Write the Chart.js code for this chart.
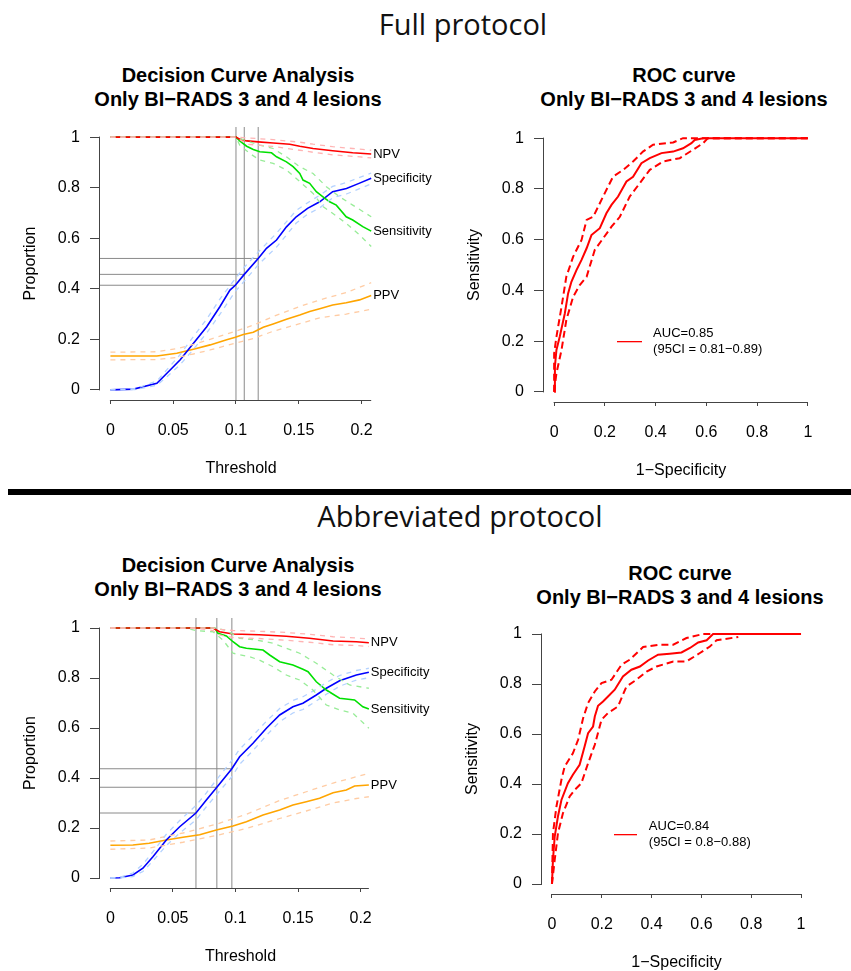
<!DOCTYPE html>
<html>
<head>
<meta charset="utf-8">
<script src="https://cdn.jsdelivr.net/npm/chart.js@4/dist/chart.umd.min.js"></script>
<style>
  html, body { margin:0; padding:0; background:#fff; }
  body { width:851px; height:971px; position:relative; overflow:hidden; font-family:"Liberation Sans", Arial, sans-serif; }
  .big { position:absolute; width:500px; text-align:center; font-family:"Open Sans", sans-serif; font-size:29px; line-height:40px; color:#111; white-space:nowrap; }
  .ttl { position:absolute; width:400px; text-align:center; font-weight:bold; font-size:20px; line-height:24px; color:#000; white-space:nowrap; }
  .bar { position:absolute; left:8px; top:489px; width:843px; height:6px; background:#000; }
  canvas { position:absolute; }
</style>
</head>
<body>
<div class="big" style="left:213px; top:4px;">Full protocol</div>
<div class="bar"></div>
<div class="big" style="left:210px; top:496px;">Abbreviated protocol</div>

<div class="ttl" style="left:38px; top:63px;">Decision Curve Analysis<br>Only BI−RADS 3 and 4 lesions</div>
<div class="ttl" style="left:484px; top:63px;">ROC curve<br>Only BI−RADS 3 and 4 lesions</div>
<div class="ttl" style="left:38px; top:553px;">Decision Curve Analysis<br>Only BI−RADS 3 and 4 lesions</div>
<div class="ttl" style="left:480px; top:561px;">ROC curve<br>Only BI−RADS 3 and 4 lesions</div>

<canvas id="c1"></canvas>
<canvas id="c2"></canvas>
<canvas id="c3"></canvas>
<canvas id="c4"></canvas>

<script>
// ---------------- DATA ----------------
// Tick values / labels
const dcaXTicks = [0, 0.05, 0.1, 0.15, 0.2];
const dcaXLabels = ["0", "0.05", "0.1", "0.15", "0.2"];
const rocXTicks = [0, 0.2, 0.4, 0.6, 0.8, 1];
const rocXLabels = ["0", "0.2", "0.4", "0.6", "0.8", "1"];
const yTicks = [0, 0.2, 0.4, 0.6, 0.8, 1];
const yLabels = ["0", "0.2", "0.4", "0.6", "0.8", "1"];

// Full protocol – decision curve analysis  [threshold, proportion]
const fullSpec = [[0,0],[0.0185,0.003],[0.037,0.026],[0.045,0.066],[0.0556,0.119],[0.066,0.184],[0.0767,0.25],[0.0873,0.33],[0.0952,0.395],[0.0995,0.414],[0.1066,0.457],[0.1177,0.52],[0.1243,0.56],[0.1323,0.593],[0.1402,0.645],[0.148,0.685],[0.157,0.718],[0.1667,0.744],[0.177,0.784],[0.188,0.797],[0.198,0.817],[0.2077,0.837]];
const fullSpecHi = [[0,0],[0.02,0.005],[0.037,0.035],[0.045,0.08],[0.0556,0.14],[0.066,0.21],[0.0767,0.28],[0.0873,0.36],[0.0995,0.44],[0.1066,0.485],[0.1177,0.545],[0.1323,0.62],[0.148,0.71],[0.157,0.74],[0.1667,0.77],[0.177,0.805],[0.188,0.82],[0.198,0.84],[0.2077,0.858]];
const fullSpecLo = [[0,0],[0.02,0.001],[0.037,0.018],[0.045,0.052],[0.0556,0.1],[0.066,0.16],[0.0767,0.225],[0.0873,0.3],[0.0995,0.39],[0.1066,0.43],[0.1177,0.495],[0.1323,0.565],[0.148,0.66],[0.157,0.695],[0.1667,0.72],[0.177,0.76],[0.188,0.775],[0.198,0.795],[0.2077,0.815]];
const fullNpv = [[0,1],[0.1,1],[0.103,0.992],[0.1085,0.985],[0.1177,0.981],[0.1296,0.977],[0.1429,0.972],[0.1508,0.964],[0.1614,0.955],[0.177,0.946],[0.193,0.938],[0.2077,0.933]];
const fullNpvHi = [[0,1],[0.1,1],[0.1085,0.997],[0.1296,0.99],[0.1508,0.98],[0.1614,0.972],[0.177,0.962],[0.193,0.955],[0.2077,0.948]];
const fullNpvLo = [[0,1],[0.1,1],[0.1085,0.972],[0.1296,0.963],[0.1508,0.948],[0.1614,0.94],[0.177,0.93],[0.193,0.924],[0.2077,0.918]];
const fullSens = [[0,1],[0.1,1],[0.103,0.985],[0.1085,0.964],[0.1138,0.951],[0.119,0.942],[0.1283,0.938],[0.1323,0.922],[0.1402,0.902],[0.1455,0.883],[0.1508,0.856],[0.1534,0.83],[0.1587,0.817],[0.164,0.784],[0.1693,0.764],[0.1746,0.744],[0.1799,0.731],[0.1878,0.685],[0.193,0.672],[0.201,0.646],[0.2077,0.628]];
const fullSensHi = [[0,1],[0.1,1],[0.1085,0.985],[0.119,0.968],[0.1296,0.955],[0.1402,0.922],[0.1508,0.883],[0.1614,0.856],[0.172,0.804],[0.1825,0.764],[0.193,0.731],[0.2077,0.685]];
const fullSensLo = [[0,1],[0.1,1],[0.103,0.968],[0.1111,0.935],[0.119,0.909],[0.1296,0.896],[0.1402,0.87],[0.1508,0.824],[0.1614,0.777],[0.1693,0.725],[0.1772,0.698],[0.1878,0.659],[0.1984,0.613],[0.2077,0.567]];
const fullPpv = [[0,0.134],[0.037,0.134],[0.0529,0.145],[0.0661,0.161],[0.0794,0.178],[0.0926,0.198],[0.0995,0.208],[0.1058,0.219],[0.1138,0.228],[0.1217,0.248],[0.1296,0.261],[0.1402,0.279],[0.1508,0.296],[0.1587,0.31],[0.1667,0.321],[0.177,0.336],[0.1878,0.345],[0.1984,0.356],[0.2077,0.373]];
const fullPpvHi = [[0,0.149],[0.037,0.151],[0.0529,0.163],[0.0661,0.18],[0.0794,0.2],[0.0995,0.232],[0.1138,0.256],[0.1296,0.29],[0.1508,0.33],[0.1667,0.356],[0.1878,0.385],[0.2077,0.424]];
const fullPpvLo = [[0,0.119],[0.037,0.12],[0.0529,0.128],[0.0661,0.142],[0.0794,0.158],[0.0995,0.185],[0.1138,0.203],[0.1296,0.232],[0.1508,0.262],[0.1667,0.285],[0.1878,0.3],[0.2077,0.319]];
const fullThr = [0.1, 0.1066, 0.1177];
const fullThrSpec = [0.414, 0.457, 0.52];

// Abbreviated protocol – decision curve analysis
const abSpec = [[0,0],[0.0074,0.001],[0.018,0.012],[0.026,0.039],[0.034,0.085],[0.0447,0.152],[0.0554,0.205],[0.0684,0.26],[0.0767,0.312],[0.0851,0.363],[0.0971,0.437],[0.1033,0.485],[0.114,0.539],[0.1247,0.599],[0.1353,0.652],[0.1459,0.685],[0.1539,0.699],[0.1646,0.732],[0.1726,0.759],[0.1832,0.789],[0.1966,0.812],[0.2066,0.823]];
const abSpecHi = [[0,0],[0.0074,0.003],[0.018,0.02],[0.026,0.055],[0.034,0.105],[0.0447,0.175],[0.0554,0.23],[0.0684,0.29],[0.0767,0.34],[0.0851,0.395],[0.0971,0.47],[0.1033,0.515],[0.114,0.57],[0.1247,0.627],[0.1353,0.678],[0.1459,0.71],[0.1539,0.725],[0.1646,0.755],[0.1726,0.782],[0.1832,0.81],[0.1966,0.83],[0.2066,0.839]];
const abSpecLo = [[0,0],[0.0074,0],[0.018,0.006],[0.026,0.026],[0.034,0.068],[0.0447,0.13],[0.0554,0.18],[0.0684,0.232],[0.0767,0.285],[0.0851,0.335],[0.0971,0.405],[0.1033,0.455],[0.114,0.51],[0.1247,0.57],[0.1353,0.625],[0.1459,0.66],[0.1539,0.674],[0.1646,0.708],[0.1726,0.735],[0.1832,0.767],[0.1966,0.792],[0.2066,0.801]];
const abNpv = [[0,1],[0.082,1],[0.0873,0.985],[0.098,0.976],[0.119,0.973],[0.1406,0.967],[0.159,0.959],[0.178,0.948],[0.1966,0.945],[0.2066,0.941]];
const abNpvHi = [[0,1],[0.082,1],[0.0873,0.995],[0.098,0.99],[0.119,0.987],[0.1406,0.982],[0.159,0.975],[0.178,0.965],[0.1966,0.96],[0.2066,0.956]];
const abNpvLo = [[0,1],[0.07,0.998],[0.082,0.99],[0.0873,0.972],[0.098,0.962],[0.119,0.958],[0.1406,0.951],[0.159,0.943],[0.178,0.933],[0.1966,0.93],[0.2066,0.926]];
const abSens = [[0,1],[0.0834,1],[0.086,0.979],[0.0927,0.968],[0.098,0.945],[0.1033,0.925],[0.1087,0.919],[0.122,0.912],[0.1273,0.892],[0.1353,0.865],[0.1459,0.852],[0.1539,0.835],[0.158,0.825],[0.1646,0.785],[0.1726,0.752],[0.1832,0.719],[0.1952,0.712],[0.2018,0.685],[0.2066,0.676]];
const abSensHi = [[0,1],[0.0834,1],[0.0927,0.99],[0.1033,0.959],[0.1167,0.952],[0.13,0.939],[0.1406,0.919],[0.1513,0.899],[0.1646,0.859],[0.178,0.812],[0.1912,0.772],[0.2066,0.759]];
const abSensLo = [[0,1],[0.06,1],[0.0687,0.989],[0.082,0.985],[0.09,0.952],[0.098,0.899],[0.1113,0.885],[0.119,0.872],[0.13,0.845],[0.1406,0.812],[0.1513,0.792],[0.1619,0.752],[0.1726,0.692],[0.1832,0.672],[0.1939,0.659],[0.2066,0.599]];
const abPpv = [[0,0.131],[0.018,0.132],[0.031,0.139],[0.0447,0.152],[0.058,0.163],[0.0714,0.173],[0.0847,0.192],[0.098,0.208],[0.1087,0.225],[0.122,0.252],[0.1353,0.272],[0.1459,0.292],[0.1566,0.305],[0.1672,0.319],[0.178,0.341],[0.1886,0.352],[0.1952,0.368],[0.2066,0.372]];
const abPpvHi = [[0,0.148],[0.031,0.152],[0.058,0.18],[0.0847,0.215],[0.1087,0.255],[0.1353,0.31],[0.1566,0.345],[0.178,0.38],[0.1966,0.405],[0.2066,0.419]];
const abPpvLo = [[0,0.115],[0.031,0.12],[0.058,0.143],[0.0847,0.17],[0.1087,0.198],[0.1353,0.238],[0.1566,0.268],[0.178,0.3],[0.1966,0.318],[0.2066,0.325]];
const abThr = [0.0684, 0.0851, 0.0971];
const abThrSpec = [0.26, 0.363, 0.437];

// ROC curves  [1-specificity, sensitivity]
const fullRoc = [[0,0],[0.003,0.099],[0.009,0.165],[0.022,0.217],[0.042,0.309],[0.055,0.388],[0.068,0.434],[0.088,0.48],[0.108,0.52],[0.128,0.566],[0.147,0.618],[0.18,0.645],[0.206,0.704],[0.226,0.737],[0.252,0.77],[0.285,0.829],[0.311,0.848],[0.344,0.901],[0.377,0.921],[0.423,0.941],[0.469,0.947],[0.508,0.96],[0.541,0.98],[0.554,0.993],[0.587,1],[1,1]];
const fullRocHi = [[0,0],[0,0.151],[0.009,0.217],[0.029,0.335],[0.048,0.454],[0.075,0.533],[0.108,0.599],[0.128,0.678],[0.154,0.69],[0.193,0.77],[0.232,0.848],[0.272,0.875],[0.311,0.908],[0.35,0.947],[0.39,0.974],[0.469,0.983],[0.508,1],[1,1]];
const fullRocLo = [[0,0],[0.009,0.073],[0.029,0.165],[0.048,0.283],[0.075,0.375],[0.101,0.421],[0.128,0.454],[0.16,0.559],[0.193,0.605],[0.226,0.651],[0.259,0.69],[0.298,0.77],[0.337,0.822],[0.377,0.875],[0.429,0.908],[0.495,0.921],[0.547,0.954],[0.587,0.98],[0.606,1],[1,1]];
const abRoc = [[0,0],[0.004,0.096],[0.011,0.19],[0.024,0.27],[0.038,0.336],[0.064,0.403],[0.084,0.437],[0.111,0.477],[0.131,0.55],[0.145,0.603],[0.165,0.63],[0.172,0.67],[0.185,0.713],[0.205,0.73],[0.225,0.75],[0.252,0.777],[0.285,0.83],[0.319,0.857],[0.353,0.87],[0.386,0.894],[0.426,0.917],[0.473,0.921],[0.52,0.926],[0.554,0.944],[0.587,0.966],[0.621,0.975],[0.647,1],[1,1]];
const abRocHi = [[0,0],[0.004,0.203],[0.018,0.31],[0.038,0.417],[0.051,0.47],[0.084,0.523],[0.105,0.577],[0.125,0.663],[0.145,0.724],[0.172,0.77],[0.199,0.804],[0.239,0.817],[0.279,0.877],[0.312,0.897],[0.366,0.948],[0.433,0.957],[0.487,0.957],[0.54,0.984],[0.607,1],[1,1]];
const abRocLo = [[0,0],[0.011,0.096],[0.024,0.203],[0.044,0.283],[0.071,0.35],[0.091,0.376],[0.118,0.403],[0.145,0.483],[0.172,0.557],[0.199,0.657],[0.225,0.684],[0.265,0.71],[0.299,0.79],[0.339,0.817],[0.38,0.85],[0.42,0.87],[0.487,0.89],[0.54,0.89],[0.594,0.924],[0.634,0.95],[0.661,0.975],[0.748,0.988]];

const fullAuc = ["AUC=0.85", "(95CI = 0.81−0.89)"];
const abAuc = ["AUC=0.84", "(95CI = 0.8−0.88)"];

// ---------------- RENDERING ----------------
const FONT = "'Liberation Sans', Arial, Helvetica, sans-serif";
Chart.defaults.font.family = FONT;
Chart.defaults.color = '#000';

const DCA_X = [-0.0083, 0.2163];
const ROC_X = [-0.04, 1.04];
const Y_R = [-0.04, 1.04];

function pts(a) { return a.map(p => ({x: p[0], y: p[1]})); }
function ds(data, color, width, dash, order) {
  return { data: pts(data), borderColor: color, borderWidth: width, borderDash: dash || [],
           pointRadius: 0, fill: false, tension: 0, order: order };
}
function refLines(thr, spec) {
  const out = [];
  thr.forEach((t, i) => {
    out.push(ds([[t, Y_R[0]], [t, Y_R[1]]], '#8a8a8a', 1, [], 3));
    out.push(ds([[DCA_X[0], spec[i]], [t, spec[i]]], '#8a8a8a', 1, [], 3));
  });
  return out;
}

function overlay(ex) {
  return {
    id: 'rstyle',
    afterDraw(chart) {
      const ctx = chart.ctx, xs = chart.scales.x, ys = chart.scales.y, ca = chart.chartArea;
      ctx.save();
      ctx.strokeStyle = '#444'; ctx.lineWidth = 1; ctx.setLineDash([]);
      const yb = Math.round(ca.bottom) + 0.5;
      ctx.beginPath(); ctx.moveTo(xs.getPixelForValue(ex.xAxis[0]) - 0.5, yb); ctx.lineTo(xs.getPixelForValue(ex.xAxis[1]), yb); ctx.stroke();
      const xl = Math.round(ca.left) - 0.5;
      ctx.beginPath(); ctx.moveTo(xl, ys.getPixelForValue(0) + 0.5); ctx.lineTo(xl, ys.getPixelForValue(1) - 0.5); ctx.stroke();
      ctx.fillStyle = '#000';
      ctx.font = '13px ' + FONT;
      ctx.textBaseline = 'middle'; ctx.textAlign = 'left';
      (ex.labels || []).forEach(l => {
        const p = l.series[l.series.length - 1];
        ctx.fillText(l.text, xs.getPixelForValue(p[0]) + 2, ys.getPixelForValue(p[1]));
      });
      if (ex.legend) {
        const L = ex.legend;
        const ly = Math.round(ys.getPixelForValue(L.y));
        const lx0 = Math.round(xs.getPixelForValue(L.x0)), lx1 = Math.round(xs.getPixelForValue(L.x1));
        ctx.fillStyle = 'rgb(255,0,0)';
        ctx.fillRect(lx0, ly, lx1 - lx0, 1.3);
        ctx.fillStyle = '#000';
        ctx.fillText(L.text[0], xs.getPixelForValue(L.tx), ly - 7.5);
        ctx.fillText(L.text[1], xs.getPixelForValue(L.tx), ly + 8.5);
      }
      ctx.restore();
    }
  };
}

function makeChart(id, ca, xr, datasets, ex) {
  const canvas = document.getElementById(id);
  const gl = ca.l - 100, gt = ca.t - 20, gw = ca.r + 70 - gl, gh = ca.b + 80 - gt;
  canvas.style.left = gl + 'px'; canvas.style.top = gt + 'px';
  canvas.width = gw; canvas.height = gh;
  canvas.style.width = gw + 'px'; canvas.style.height = gh + 'px';
  new Chart(canvas, {
    type: 'line',
    data: { datasets },
    options: {
      responsive: false, animation: false, devicePixelRatio: 1,
      layout: { padding: { left: 0, top: 20, right: 70, bottom: 0 } },
      plugins: { legend: { display: false }, tooltip: { enabled: false } },
      scales: {
        x: {
          type: 'linear', position: 'bottom', min: xr[0], max: xr[1],
          afterFit: s => { s.height = 80; },
          afterBuildTicks: s => { s.ticks = ex.xTicks.map(v => ({ value: v })); },
          ticks: { autoSkip: false, maxRotation: 0, minRotation: 0, padding: 17, font: { size: 16 }, color: '#000',
                   callback: (v, i) => ex.xLabels[i] },
          grid: { display: true, drawOnChartArea: false, drawTicks: true, tickLength: 4, color: '#444', lineWidth: 1 },
          border: { display: false },
          title: { display: true, text: ex.xTitle, font: { size: 16 }, color: '#000', padding: { top: 0, bottom: 2 } }
        },
        y: {
          type: 'linear', position: 'left', min: Y_R[0], max: Y_R[1],
          afterFit: s => { s.width = 100; },
          afterBuildTicks: s => { s.ticks = yTicks.map(v => ({ value: v })); },
          ticks: { autoSkip: false, padding: 10, font: { size: 16 }, color: '#000',
                   callback: (v, i) => yLabels[i] },
          grid: { display: true, drawOnChartArea: false, drawTicks: true, tickLength: 10, color: '#444', lineWidth: 1 },
          border: { display: false },
          title: { display: true, text: ex.yTitle, font: { size: 16 }, color: '#000', padding: { top: 21, bottom: 0 } }
        }
      }
    },
    plugins: [overlay(ex)]
  });
}

const C = { red: '#ff0000', green: '#00e000', blue: '#0000ff', orange: '#ffa500',
            redCI: '#ffb4b4', greenCI: '#98ec98', blueCI: '#b4d2ff', orangeCI: '#ffcca4' };
const CID = [5, 5];

function dcaSets(spec, specHi, specLo, npv, npvHi, npvLo, sens, sensHi, sensLo, ppv, ppvHi, ppvLo, thr, thrSpec) {
  return [
    ds(npvHi, C.redCI, 1.3, CID, 1), ds(npvLo, C.redCI, 1.3, CID, 1),
    ds(sensHi, C.greenCI, 1.3, CID, 1), ds(sensLo, C.greenCI, 1.3, CID, 1),
    ds(specHi, C.blueCI, 1.3, CID, 1), ds(specLo, C.blueCI, 1.3, CID, 1),
    ds(ppvHi, C.orangeCI, 1.3, CID, 1), ds(ppvLo, C.orangeCI, 1.3, CID, 1),
    ds(npv, C.red, 1.6, [], 2), ds(sens, C.green, 1.6, [], 2),
    ds(spec, C.blue, 1.6, [], 2), ds(ppv, C.orange, 1.6, [], 2)
  ].concat(refLines(thr, thrSpec));
}

// Full protocol DCA
makeChart('c1', { l: 100, r: 382, t: 127, b: 400 }, DCA_X,
  dcaSets(fullSpec, fullSpecHi, fullSpecLo, fullNpv, fullNpvHi, fullNpvLo, fullSens, fullSensHi, fullSensLo, fullPpv, fullPpvHi, fullPpvLo, fullThr, fullThrSpec),
  { xTicks: dcaXTicks, xLabels: dcaXLabels, xTitle: 'Threshold', yTitle: 'Proportion', xAxis: [0, 0.2077],
    labels: [{ text: 'NPV', series: fullNpv }, { text: 'Specificity', series: fullSpec },
             { text: 'Sensitivity', series: fullSens }, { text: 'PPV', series: fullPpv }] });

// Full protocol ROC
makeChart('c2', { l: 544, r: 818, t: 128, b: 402 }, ROC_X,
  [ds(fullRoc, C.red, 2, [], 1), ds(fullRocHi, C.red, 2, [7, 4], 2), ds(fullRocLo, C.red, 2, [7, 4], 2)],
  { xTicks: rocXTicks, xLabels: rocXLabels, xTitle: '1−Specificity', yTitle: 'Sensitivity', xAxis: [0, 1],
    legend: { x0: 0.248, x1: 0.346, y: 0.2, tx: 0.39, text: fullAuc } });

// Abbreviated protocol DCA
makeChart('c3', { l: 100, r: 381, t: 618, b: 888 }, DCA_X,
  dcaSets(abSpec, abSpecHi, abSpecLo, abNpv, abNpvHi, abNpvLo, abSens, abSensHi, abSensLo, abPpv, abPpvHi, abPpvLo, abThr, abThrSpec),
  { xTicks: dcaXTicks, xLabels: dcaXLabels, xTitle: 'Threshold', yTitle: 'Proportion', xAxis: [0, 0.2066],
    labels: [{ text: 'NPV', series: abNpv }, { text: 'Specificity', series: abSpec },
             { text: 'Sensitivity', series: abSens }, { text: 'PPV', series: abPpv }] });

// Abbreviated protocol ROC
makeChart('c4', { l: 542, r: 811, t: 624, b: 894 }, ROC_X,
  [ds(abRoc, C.red, 2, [], 1), ds(abRocHi, C.red, 2, [7, 4], 2), ds(abRocLo, C.red, 2, [7, 4], 2)],
  { xTicks: rocXTicks, xLabels: rocXLabels, xTitle: '1−Specificity', yTitle: 'Sensitivity', xAxis: [0, 1],
    legend: { x0: 0.249, x1: 0.341, y: 0.2, tx: 0.389, text: abAuc } });
</script>
</body>
</html>
